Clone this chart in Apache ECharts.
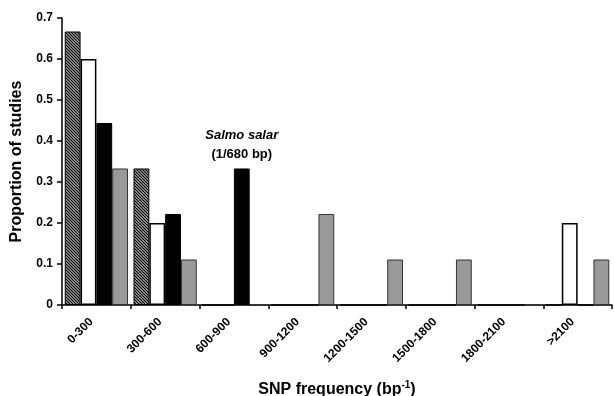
<!DOCTYPE html>
<html><head><meta charset="utf-8">
<script src="https://cdn.jsdelivr.net/npm/echarts@6/dist/echarts.min.js"></script>
<style>html,body{margin:0;padding:0;background:#fff}#c{width:614px;height:396px}</style>
</head><body><div id="c"></div>
<script>
var categories = ['0-300','300-600','600-900','900-1200','1200-1500','1500-1800','1800-2100','>2100'];
var seriesHatched = [0.667, 0.333, 0, 0, 0, 0, 0, 0];
var seriesWhite   = [0.6, 0.2, 0, 0, 0, 0, 0, 0.2];
var seriesBlack   = [0.444, 0.222, 0.333, 0, 0, 0, 0, 0];
var seriesGray    = [0.333, 0.111, 0, 0.222, 0.111, 0.111, 0, 0.111];
var yTicks = [0, 0.1, 0.2, 0.3, 0.4, 0.5, 0.6, 0.7];

var pc = document.createElement('canvas');
pc.width = 3; pc.height = 3;
var ctx = pc.getContext('2d');
ctx.fillStyle = '#ffffff'; ctx.fillRect(0,0,3,3);
ctx.strokeStyle = '#000000'; ctx.lineWidth = 1.4;
ctx.beginPath();
ctx.moveTo(-1,-1); ctx.lineTo(4,4);
ctx.moveTo(-1,2); ctx.lineTo(1,4);
ctx.moveTo(2,-1); ctx.lineTo(4,1);
ctx.stroke();

var font = 'Liberation Sans, Arial, sans-serif';
var chart = echarts.init(document.getElementById('c'), null, {renderer:'canvas'});
function bar(name, data, color, border, bw) {
  return {name:name, type:'bar', data:data, barGap:'0%', barCategoryGap:'8%',
    itemStyle:{color:color, borderColor:border, borderWidth:bw}};
}
var black = bar('black', seriesBlack.map(function(v,i){
  if (i===2) return {value:v, label:{show:true, position:'top', distance:5,
     formatter:'{a|Salmo salar}\n{b|(1/680 bp)}',
     rich:{a:{fontFamily:font,fontWeight:'bold',fontStyle:'italic',fontSize:13,color:'#000',lineHeight:19},
           b:{fontFamily:font,fontWeight:'bold',fontSize:13,color:'#000',lineHeight:19}}}};
  return v;
}), '#000', '#000', 1);
chart.setOption({
  animation:false,
  grid:{left:62, right:2, top:18, bottom:91, containLabel:false, outerBoundsMode:'none'},
  xAxis:{type:'category', data:categories,
    axisLine:{lineStyle:{color:'#000', width:1.5}},
    axisTick:{show:true, length:4, lineStyle:{color:'#000', width:1.5}},
    axisLabel:{rotate:45, fontFamily:font, fontWeight:'bold', fontSize:12, color:'#000', margin:10, padding:[0,7,0,0]},
    name:'{t|SNP frequency (bp}{s|-1}{t|)}', nameLocation:'middle', nameGap:75,
    nameTextStyle:{rich:{t:{fontFamily:font,fontWeight:'bold',fontSize:16,color:'#000'},
       s:{fontFamily:font,fontWeight:'bold',fontSize:10,color:'#000',verticalAlign:'top',padding:[0,0,10,0]}}}},
  yAxis:{type:'value', min:0, max:0.7, interval:0.1,
    splitLine:{show:false},
    axisLine:{show:true, lineStyle:{color:'#000', width:1.5}},
    axisTick:{show:true, length:5, lineStyle:{color:'#000', width:1.5}},
    axisLabel:{fontFamily:font, fontWeight:'bold', fontSize:12, color:'#000', margin:9,
      formatter:function(v){ var t = yTicks.filter(function(x){return Math.abs(x-v)<1e-6;})[0]; return t===0?'0':(t!==undefined?t.toFixed(1):''); }},
    name:'Proportion of studies', nameLocation:'middle', nameGap:37,
    nameTextStyle:{fontFamily:font, fontWeight:'bold', fontSize:16, color:'#000'}},
  series:[
    bar('hatched', seriesHatched, {image:pc, repeat:'repeat'}, '#000', 1),
    bar('white', seriesWhite, '#fff', '#000', 1.5),
    black,
    bar('gray', seriesGray, '#999', '#333', 1)
  ]
});
</script></body></html>
